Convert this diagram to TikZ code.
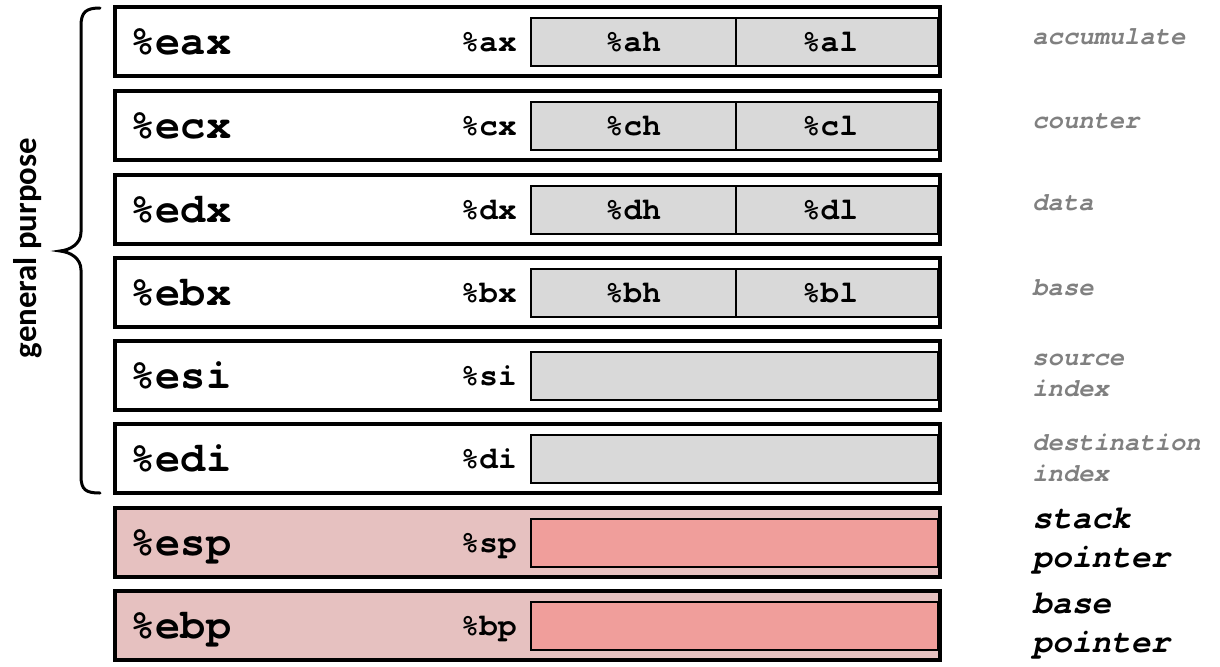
\documentclass[tikz,border=0pt]{standalone}
\usepackage{fontspec}
\setmonofont{texgyrecursor}[Extension = .otf, UprightFont = *-regular, BoldFont = *-bold, ItalicFont = *-italic, BoldItalicFont = *-bolditalic]
\newfontfamily\sidefont{Carlito}
\usetikzlibrary{positioning}

\definecolor{halfgray}{HTML}{D9D9D9}
\definecolor{ptrback}{HTML}{E6C1C0}
\definecolor{ptrfill}{HTML}{F09E9B}
\definecolor{notegray}{HTML}{808080}

\tikzset{
  outerbox/.style = {draw = black, line width = 1.8pt},
  innerbox/.style = {draw = black, line width = 0.8pt, fill = halfgray},
  ptrbox/.style = {draw = black, line width = 0.8pt, fill = ptrfill},
  bigreg/.style = {anchor = base west, inner sep = 0pt, font = \ttfamily\bfseries\fontsize{21}{21}\selectfont},
  midreg/.style = {anchor = base east, inner sep = 0pt, font = \ttfamily\bfseries\fontsize{15.5}{15.5}\selectfont},
  halfreg/.style = {anchor = base, inner sep = 0pt, font = \ttfamily\bfseries\fontsize{15.5}{15.5}\selectfont},
  usenote/.style = {anchor = west, align = left, inner sep = 0pt, text = notegray, font = \ttfamily\bfseries\itshape\fontsize{12.75}{15.5}\selectfont},
  ptrnote/.style = {anchor = west, align = left, inner sep = 0pt, text = black, font = \ttfamily\bfseries\itshape\fontsize{16.4}{19}\selectfont}
}

\begin{document}
\begin{tikzpicture}[x = 0.5pt, y = -0.5pt]
  \useasboundingbox (0, 0) rectangle (1220, 666);
  % eax
  \draw [outerbox, fill = white] (115, 7) rectangle (940, 76);
  \draw [innerbox] (531, 18) rectangle (736, 66);
  \draw [innerbox] (736, 18) rectangle (938, 66);
  \node [bigreg] (eax) at (130, 54.5) {\%eax};
  \node [midreg] (ax) at (517, 51) {\%ax};
  \node [halfreg] (ah) at (633, 51) {\%ah};
  \node [halfreg] (al) at (830, 51) {\%al};
  \node [usenote, anchor = base west] (accum) at (1032, 44.5) {accumulate};
  % ecx
  \draw [outerbox, fill = white] (115, 91) rectangle (940, 160);
  \draw [innerbox] (531, 102) rectangle (736, 150);
  \draw [innerbox] (736, 102) rectangle (938, 150);
  \node [bigreg] (ecx) at (130, 138.5) {\%ecx};
  \node [midreg] (cx) at (517, 135) {\%cx};
  \node [halfreg] (ch) at (633, 135) {\%ch};
  \node [halfreg] (cl) at (830, 135) {\%cl};
  \node [usenote, anchor = base west] (counter) at (1032, 128.5) {counter};
  % edx
  \draw [outerbox, fill = white] (115, 175) rectangle (940, 244);
  \draw [innerbox] (531, 186) rectangle (736, 234);
  \draw [innerbox] (736, 186) rectangle (938, 234);
  \node [bigreg] (edx) at (130, 222.5) {\%edx};
  \node [midreg] (dx) at (517, 219) {\%dx};
  \node [halfreg] (dh) at (633, 219) {\%dh};
  \node [halfreg] (dl) at (830, 219) {\%dl};
  \node [usenote, anchor = base west] (data) at (1032, 210) {data};
  % ebx
  \draw [outerbox, fill = white] (115, 258) rectangle (940, 327);
  \draw [innerbox] (531, 269) rectangle (736, 317);
  \draw [innerbox] (736, 269) rectangle (938, 317);
  \node [bigreg] (ebx) at (130, 305.5) {\%ebx};
  \node [midreg] (bx) at (517, 302) {\%bx};
  \node [halfreg] (bh) at (633, 302) {\%bh};
  \node [halfreg] (bl) at (830, 302) {\%bl};
  \node [usenote, anchor = base west] (base) at (1032, 295.5) {base};
  % esi
  \draw [outerbox, fill = white] (115, 341) rectangle (940, 410);
  \draw [innerbox] (531, 352) rectangle (938, 400);
  \node [bigreg] (esi) at (130, 388.5) {\%esi};
  \node [midreg] (si) at (517, 385) {\%si};
  \node [usenote] (srcidx) at (1032, 375) {source\\index};
  % edi
  \draw [outerbox, fill = white] (115, 424) rectangle (940, 493);
  \draw [innerbox] (531, 435) rectangle (938, 483);
  \node [bigreg] (edi) at (130, 471.5) {\%edi};
  \node [midreg] (di) at (517, 468) {\%di};
  \node [usenote] (dstidx) at (1032, 458) {destination\\index};
  % esp
  \draw [outerbox, fill = ptrback] (115, 508) rectangle (940, 577);
  \draw [ptrbox] (531, 519) rectangle (938, 567);
  \node [bigreg] (esp) at (130, 555.5) {\%esp};
  \node [midreg] (sp) at (517, 552) {\%sp};
  \node [ptrnote, font = \ttfamily\bfseries\itshape\fontsize{16.4}{19.5}\selectfont] (stkptr) at (1032, 541) {stack\\pointer};
  % ebp
  \draw [outerbox, fill = ptrback] (115, 591) rectangle (940, 660);
  \draw [ptrbox] (531, 602) rectangle (938, 650);
  \node [bigreg] (ebp) at (130, 638.5) {\%ebp};
  \node [midreg] (bp) at (517, 635) {\%bp};
  \node [ptrnote, font = \ttfamily\bfseries\itshape\fontsize{16.4}{19.5}\selectfont] (baseptr) at (1032, 626) {base\\pointer};
  % brace
  \draw [line width = 1.5pt, line cap = round]
    (100, 8) .. controls (86, 8) and (81, 12) .. (81, 26) -- (81, 232)
    .. controls (81, 244) and (70, 250) .. (60, 251)
    .. controls (70, 252) and (81, 258) .. (81, 270) -- (81, 476)
    .. controls (81, 490) and (86, 493) .. (100, 493);
  \node [rotate = 90, inner sep = 0pt, font = \sidefont\bfseries\fontsize{16.4}{16.4}\selectfont] (gp) at (28, 248) {general purpose};
\end{tikzpicture}
\end{document}
